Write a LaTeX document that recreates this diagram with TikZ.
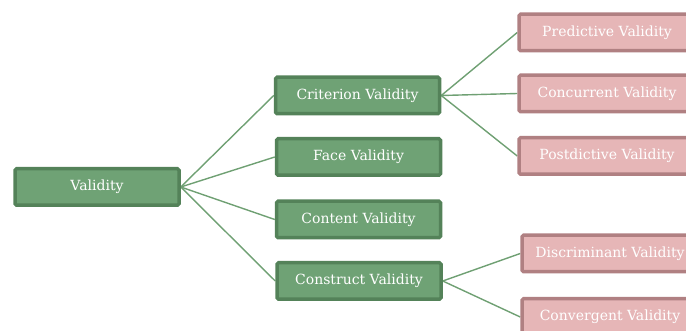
\documentclass[tikz,border=0pt]{standalone}
\usepackage{fontspec}
\setmainfont{DejaVu Serif}
\usetikzlibrary{backgrounds}
\definecolor{gfill}{HTML}{6FA275}
\definecolor{gline}{HTML}{548259}
\definecolor{pfill}{HTML}{E6B6B7}
\definecolor{pline}{HTML}{B08082}
\definecolor{edgec}{HTML}{6FA073}
\begin{document}
\begin{tikzpicture}[x=1pt,y=-1pt,
  gbox/.style={draw=gline,fill=gfill,line width=3.5pt,rounded corners=1.5pt,
    minimum width=164pt,minimum height=36.5pt,inner sep=0pt,text=white,
    font=\fontsize{14}{16}\selectfont},
  pbox/.style={draw=pline,fill=pfill,line width=3.5pt,rounded corners=1.5pt,
    minimum width=176pt,minimum height=36.5pt,inner sep=0pt,text=white,
    font=\fontsize{14}{16}\selectfont},
  conn/.style={draw=edgec,line width=1.4pt}]
\useasboundingbox (0,0) rectangle (686,331);
\clip (0,0) rectangle (686,331);
\node[gbox] (val) at (97,187) {Validity};
\node[gbox] (crit) at (357.5,95.5) {Criterion Validity};
\node[gbox] (face) at (358.5,157) {Face Validity};
\node[gbox] (cont) at (358.5,219.5) {Content Validity};
\node[gbox] (cons) at (359,281) {Construct Validity};
\node[pbox] (pred) at (607,32.5) {Predictive Validity};
\node[pbox] (conc) at (607,93.5) {Concurrent Validity};
\node[pbox] (post) at (607,156) {Postdictive Validity};
\node[pbox] (disc) at (610,253.5) {Discriminant Validity};
\node[pbox] (conv) at (610,317) {Convergent Validity};
\begin{pgfonlayer}{background}
\draw[conn] (val.east) -- (crit.west);
\draw[conn] (val.east) -- (face.west);
\draw[conn] (val.east) -- (cont.west);
\draw[conn] (val.east) -- (cons.west);
\draw[conn] (crit.east) -- (pred.west);
\draw[conn] (crit.east) -- (conc.west);
\draw[conn] (crit.east) -- (post.west);
\draw[conn] (cons.east) -- (disc.west);
\draw[conn] (cons.east) -- (conv.west);
\end{pgfonlayer}
\end{tikzpicture}
\end{document}
